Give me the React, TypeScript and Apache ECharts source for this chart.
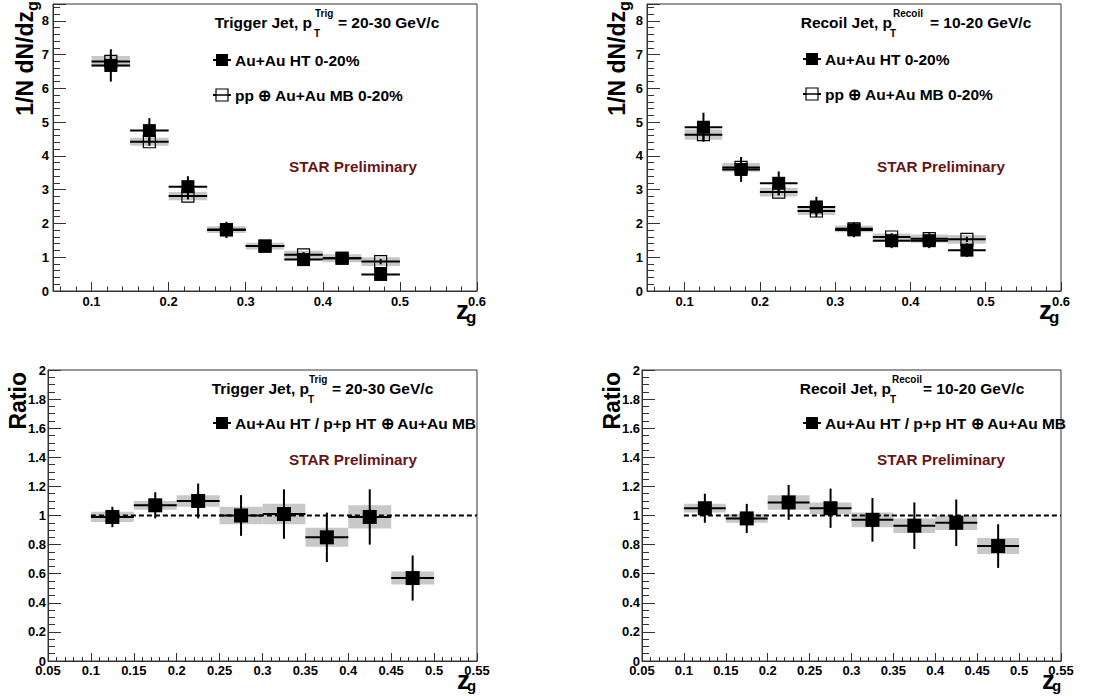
import React, { useEffect, useRef } from "react";
import * as echarts from "echarts";

// ---- data ----
const zgBins = [0.125, 0.175, 0.225, 0.275, 0.325, 0.375, 0.425, 0.475];
const BIN_HALF = 0.025;

const trigHT = [6.68, 4.75, 3.09, 1.81, 1.33, 0.93, 0.97, 0.49];
const trigHTStat = [0.48, 0.37, 0.31, 0.24, 0.13, 0.1, 0.08, 0.1];
const trigPP = [6.8, 4.42, 2.81, 1.82, 1.33, 1.07, 0.97, 0.87];
const trigPPStat = [0.12, 0.12, 0.1, 0.07, 0.05, 0.08, 0.06, 0.08];
const trigPPSys = [0.16, 0.12, 0.12, 0.1, 0.1, 0.12, 0.12, 0.13];

const recoilHT = [4.85, 3.6, 3.19, 2.49, 1.81, 1.49, 1.49, 1.21];
const recoilHTStat = [0.43, 0.37, 0.35, 0.3, 0.22, 0.22, 0.22, 0.2];
const recoilPP = [4.63, 3.66, 2.93, 2.37, 1.84, 1.6, 1.55, 1.53];
const recoilPPStat = [0.15, 0.12, 0.1, 0.1, 0.08, 0.08, 0.08, 0.08];
const recoilPPSys = [0.15, 0.13, 0.13, 0.12, 0.1, 0.1, 0.12, 0.13];

const ratioTrig = [0.99, 1.07, 1.1, 1.0, 1.01, 0.85, 0.99, 0.57];
const ratioTrigStat = [0.07, 0.09, 0.12, 0.14, 0.17, 0.17, 0.19, 0.155];
const ratioTrigSys = [0.035, 0.03, 0.04, 0.06, 0.07, 0.065, 0.08, 0.045];

const ratioRecoil = [1.05, 0.98, 1.09, 1.05, 0.97, 0.93, 0.95, 0.79];
const ratioRecoilStat = [0.1, 0.1, 0.12, 0.135, 0.15, 0.16, 0.16, 0.15];
const ratioRecoilSys = [0.03, 0.03, 0.05, 0.04, 0.05, 0.05, 0.05, 0.055];

const unityLine = [
  [0.1, 1],
  [0.55, 1],
];

// ---- styling ----
const FONT = '"Liberation Sans", Arial, Helvetica, sans-serif';
const AXIS_COLOR = "#333";
const SYS_COLOR = "#c8c8c8";
const STAR_COLOR = "#6b1414";

const fmt = (v: number) => String(parseFloat(v.toFixed(3)));

function rows(vals: number[], errs: number[]) {
  return zgBins.map((x, i) => [x, vals[i], errs[i]]);
}

function sysSeries(grid: number, vals: number[], sys: number[], z: number) {
  return {
    type: "custom",
    xAxisIndex: grid,
    yAxisIndex: grid,
    z,
    silent: true,
    clip: true,
    data: rows(vals, sys),
    encode: { x: 0, y: 1 },
    renderItem: (_p: any, api: any) => {
      const x = api.value(0);
      const y = api.value(1);
      const s = api.value(2);
      const a = api.coord([x - BIN_HALF, y + s]);
      const b = api.coord([x + BIN_HALF, y - s]);
      return {
        type: "rect",
        shape: { x: a[0], y: a[1], width: b[0] - a[0], height: b[1] - a[1] },
        style: { fill: SYS_COLOR },
      };
    },
  };
}

function errSeries(grid: number, vals: number[], errs: number[], z: number, lw: number) {
  return {
    type: "custom",
    xAxisIndex: grid,
    yAxisIndex: grid,
    z,
    silent: true,
    clip: true,
    data: rows(vals, errs),
    encode: { x: 0, y: 1 },
    renderItem: (_p: any, api: any) => {
      const x = api.value(0);
      const y = api.value(1);
      const e = api.value(2);
      const l = api.coord([x - BIN_HALF, y]);
      const r = api.coord([x + BIN_HALF, y]);
      const u = api.coord([x, y + e]);
      const d = api.coord([x, y - e]);
      const st = { stroke: "#000", lineWidth: lw };
      return {
        type: "group",
        children: [
          { type: "line", shape: { x1: l[0], y1: l[1], x2: r[0], y2: r[1] }, style: st },
          { type: "line", shape: { x1: u[0], y1: u[1], x2: d[0], y2: d[1] }, style: st },
        ],
      };
    },
  };
}

function markerSeries(grid: number, name: string, vals: number[], open: boolean, size: number, z: number) {
  return {
    type: "scatter",
    name,
    xAxisIndex: grid,
    yAxisIndex: grid,
    z,
    symbol: "rect",
    symbolSize: size,
    data: zgBins.map((x, i) => [x, vals[i]]),
    itemStyle: open
      ? { color: "rgba(0,0,0,0)", borderColor: "#000", borderWidth: 1.2, opacity: 1 }
      : { color: "#000", opacity: 1 },
  };
}

const labelStyle = { color: "#000", fontFamily: FONT, fontWeight: "bold" as const, fontSize: 13 };

function topX(grid: number) {
  return {
    type: "value",
    gridIndex: grid,
    min: 0.05,
    max: 0.6,
    splitNumber: 5,
    axisLine: { show: true, onZero: false, lineStyle: { color: AXIS_COLOR, width: 1 } },
    axisTick: { show: true, inside: true, length: 9, lineStyle: { color: AXIS_COLOR } },
    minorTick: { show: true, splitNumber: 5, length: 4.5, lineStyle: { color: AXIS_COLOR } },
    splitLine: { show: false },
    axisLabel: { ...labelStyle, margin: 4, showMinLabel: false, formatter: fmt },
  };
}
function topY(grid: number) {
  return {
    type: "value",
    gridIndex: grid,
    min: 0,
    max: 8.5,
    interval: 1,
    axisLine: { show: true, onZero: false, lineStyle: { color: AXIS_COLOR, width: 1 } },
    axisTick: { show: true, inside: true, length: 13, lineStyle: { color: AXIS_COLOR } },
    minorTick: { show: true, splitNumber: 5, length: 7, lineStyle: { color: AXIS_COLOR } },
    splitLine: { show: false },
    axisLabel: { ...labelStyle, margin: 4, showMaxLabel: false, formatter: fmt },
  };
}
function botX(grid: number) {
  return {
    type: "value",
    gridIndex: grid,
    min: 0.05,
    max: 0.55,
    interval: 0.05,
    axisLine: { show: true, onZero: false, lineStyle: { color: AXIS_COLOR, width: 1 } },
    axisTick: { show: true, inside: true, length: 8, lineStyle: { color: AXIS_COLOR } },
    minorTick: { show: true, splitNumber: 5, length: 4, lineStyle: { color: AXIS_COLOR } },
    splitLine: { show: false },
    axisLabel: { ...labelStyle, margin: 3, formatter: fmt },
  };
}
function botY(grid: number) {
  return {
    type: "value",
    gridIndex: grid,
    min: 0,
    max: 2,
    interval: 0.2,
    axisLine: { show: true, onZero: false, lineStyle: { color: AXIS_COLOR, width: 1 } },
    axisTick: { show: true, inside: true, length: 13, lineStyle: { color: AXIS_COLOR } },
    minorTick: { show: true, splitNumber: 4, length: 7, lineStyle: { color: AXIS_COLOR } },
    splitLine: { show: false },
    axisLabel: { ...labelStyle, margin: 2, formatter: fmt },
  };
}

// ---- graphic helpers ----
function txt(text: string, x: number, y: number, size: number, opts: any = {}) {
  return {
    type: "text",
    x,
    y,
    rotation: opts.rotation || 0,
    z: 100,
    style: {
      text,
      fontFamily: FONT,
      fontWeight: "bold",
      fontSize: size,
      fill: opts.fill || "#000",
      align: opts.align || "left",
      verticalAlign: "middle",
    },
  };
}

function title(main: string, pEnd: number, sup: string, supX: number, subX: number, rest: string, restX: number, y: number) {
  return [
    txt(main, pEnd, y, 15.5, { align: "right" }),
    txt(sup, supX, y - 9, 10),
    txt("T", subX, y + 11, 10),
    txt(rest, restX, y, 15.5),
  ];
}

function legendIcon(cx: number, cy: number, open: boolean) {
  return [
    {
      type: "line",
      z: 100,
      shape: { x1: cx - 9, y1: cy, x2: cx + 9, y2: cy },
      style: { stroke: "#000", lineWidth: 2 },
    },
    {
      type: "rect",
      z: 101,
      shape: { x: cx - 6, y: cy - 6, width: 12, height: 12 },
      style: open ? { fill: "#fff", stroke: "#000", lineWidth: 1.2 } : { fill: "#000" },
    },
    ...(open
      ? [
          {
            type: "line",
            z: 102,
            shape: { x1: cx - 9, y1: cy, x2: cx + 9, y2: cy },
            style: { stroke: "#000", lineWidth: 1.5 },
          },
        ]
      : []),
  ];
}

function yTitleDist(cx: number, gx: number) {
  return [
    txt("1/N dN/dz", cx, 11, 23, { rotation: Math.PI / 2, align: "right" }),
    txt("g", gx, 11, 16, { rotation: Math.PI / 2, align: "left" }),
  ];
}

function zgTitle(zx: number, zy: number, gSize = 17, gOff = 7) {
  return [txt("z", zx, zy, 26), txt("g", zx + 10, zy + gOff, gSize)];
}

const graphicElements: any[] = [
  // top-left
  ...title("Trigger Jet, p", 312, "Trig", 315, 314, "= 20-30 GeV/c", 338, 22),
  ...legendIcon(222, 60, false),
  txt("Au+Au HT 0-20%", 235, 60, 15.5),
  ...legendIcon(222, 95, true),
  txt("pp \u2295 Au+Au MB 0-20%", 235, 95, 15.5),
  txt("STAR Preliminary", 289, 166, 15.3, { fill: STAR_COLOR }),
  ...yTitleDist(25, 32),
  ...zgTitle(456, 310),
  // top-right
  ...title("Recoil Jet, p", 892, "Recoil", 893, 890, "= 10-20 GeV/c", 930, 22),
  ...legendIcon(812, 59, false),
  txt("Au+Au HT 0-20%", 825, 59, 15.5),
  ...legendIcon(812, 94, true),
  txt("pp \u2295 Au+Au MB 0-20%", 825, 94, 15.5),
  txt("STAR Preliminary", 877, 166, 15.3, { fill: STAR_COLOR }),
  ...yTitleDist(617, 624),
  ...zgTitle(1039, 310),
  // bottom-left
  ...title("Trigger Jet, p", 309, "Trig", 309, 308, "= 20-30 GeV/c", 332, 388),
  ...legendIcon(222, 423, false),
  txt("Au+Au HT / p+p HT \u2295 Au+Au MB", 235, 423, 15.5),
  txt("STAR Preliminary", 289, 459, 15.3, { fill: STAR_COLOR }),
  txt("Ratio", 18, 372, 23, { rotation: Math.PI / 2, align: "right" }),
  ...zgTitle(457, 680, 15, 5),
  // bottom-right
  ...title("Recoil Jet, p", 891, "Recoil", 892, 890, "= 10-20 GeV/c", 923, 388),
  ...legendIcon(812, 423, false),
  txt("Au+Au HT / p+p HT \u2295 Au+Au MB", 825, 423, 15.5),
  txt("STAR Preliminary", 877, 459, 15.3, { fill: STAR_COLOR }),
  txt("Ratio", 612, 372, 23, { rotation: Math.PI / 2, align: "right" }),
  ...zgTitle(1042, 680, 15, 5),
];

const gridBase = { show: true, borderColor: AXIS_COLOR, borderWidth: 1, backgroundColor: "transparent" };

const option: any = {
  animation: false,
  backgroundColor: "#fff",
  textStyle: { fontFamily: FONT },
  grid: [
    { ...gridBase, left: 53, top: 4, width: 424, height: 287 },
    { ...gridBase, left: 647, top: 4, width: 414, height: 287 },
    { ...gridBase, left: 48, top: 370, width: 429, height: 291 },
    { ...gridBase, left: 642, top: 370, width: 419, height: 291 },
  ],
  xAxis: [topX(0), topX(1), botX(2), botX(3)],
  yAxis: [topY(0), topY(1), botY(2), botY(3)],
  series: [
    // top-left
    sysSeries(0, trigPP, trigPPSys, 1),
    errSeries(0, trigPP, trigPPStat, 2, 2),
    markerSeries(0, "pp ⊕ Au+Au MB 0-20%", trigPP, true, 12, 3),
    errSeries(0, trigHT, trigHTStat, 4, 2),
    markerSeries(0, "Au+Au HT 0-20%", trigHT, false, 13, 5),
    // top-right
    sysSeries(1, recoilPP, recoilPPSys, 1),
    errSeries(1, recoilPP, recoilPPStat, 2, 2),
    markerSeries(1, "pp ⊕ Au+Au MB 0-20% (recoil)", recoilPP, true, 12, 3),
    errSeries(1, recoilHT, recoilHTStat, 4, 2),
    markerSeries(1, "Au+Au HT 0-20% (recoil)", recoilHT, false, 13, 5),
    // bottom-left
    sysSeries(2, ratioTrig, ratioTrigSys, 1),
    {
      type: "line",
      xAxisIndex: 2,
      yAxisIndex: 2,
      z: 2,
      symbol: "none",
      silent: true,
      data: unityLine,
      lineStyle: { color: "#000", width: 2, type: [5, 3] },
    },
    errSeries(2, ratioTrig, ratioTrigStat, 3, 2),
    markerSeries(2, "ratio trig", ratioTrig, false, 14, 4),
    // bottom-right
    sysSeries(3, ratioRecoil, ratioRecoilSys, 1),
    {
      type: "line",
      xAxisIndex: 3,
      yAxisIndex: 3,
      z: 2,
      symbol: "none",
      silent: true,
      data: unityLine,
      lineStyle: { color: "#000", width: 2, type: [5, 3] },
    },
    errSeries(3, ratioRecoil, ratioRecoilStat, 3, 2),
    markerSeries(3, "ratio recoil", ratioRecoil, false, 14, 4),
  ],
  graphic: { elements: graphicElements },
};

export default function App() {
  const ref = useRef<HTMLDivElement>(null);
  useEffect(() => {
    const chart = echarts.init(ref.current!, null, { renderer: "svg" });
    chart.setOption(option);
    return () => chart.dispose();
  }, []);
  return (
    <div
      ref={ref}
      style={{ position: "fixed", left: 0, top: 0, width: 1094, height: 696, background: "#fff" }}
    />
  );
}
